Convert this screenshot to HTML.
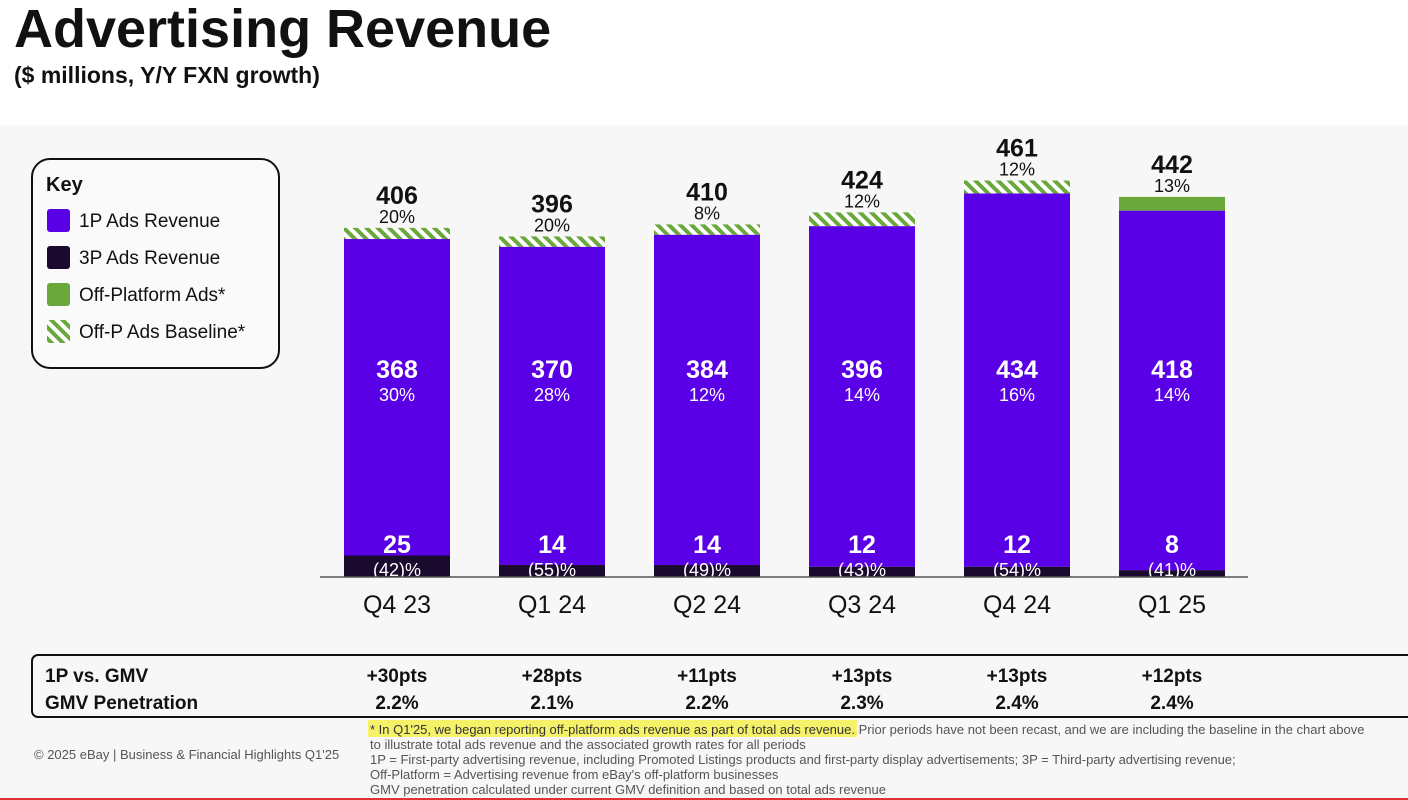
<!DOCTYPE html>
<html><head><meta charset="utf-8"><style>
html,body{margin:0;padding:0;width:1408px;height:800px;overflow:hidden;font-family:"Liberation Sans",sans-serif;background:#f7f7f7}
</style></head><body>
<svg width="1408" height="800" xmlns="http://www.w3.org/2000/svg" font-family="Liberation Sans, sans-serif">
<defs>
<pattern id="hatch" patternUnits="userSpaceOnUse" width="8" height="8" patternTransform="rotate(-45)">
<rect width="8" height="8" fill="#ffffff"/><rect width="4" height="8" fill="#6aa83c"/></pattern>
</defs>
<rect x="0" y="0" width="1408" height="125" fill="#ffffff"/>
<text x="14" y="47" font-size="54" font-weight="bold" fill="#111">Advertising Revenue</text>
<text x="14" y="83" font-size="23" font-weight="bold" fill="#111">($ millions, Y/Y FXN growth)</text>

<g>
<rect x="32" y="159" width="247" height="209" rx="18" fill="#fafafa" stroke="#111" stroke-width="2"/>
<text x="46" y="191" font-size="20" font-weight="bold" fill="#111">Key</text>
<rect x="47" y="209" width="23" height="23" rx="3" fill="#5a00e6"/>
<text x="79" y="227" font-size="19" fill="#111">1P Ads Revenue</text>
<rect x="47" y="246" width="23" height="23" rx="3" fill="#1a0a2e"/>
<text x="79" y="264" font-size="19" fill="#111">3P Ads Revenue</text>
<rect x="47" y="283" width="23" height="23" rx="3" fill="#6aa83c"/>
<text x="79" y="301" font-size="19" fill="#111">Off-Platform Ads*</text>
<rect x="47" y="320" width="23" height="23" fill="url(#hatch)"/>
<text x="79" y="338" font-size="19" fill="#111">Off-P Ads Baseline*</text>
</g>

<g id="chart"></g>
<line x1="320" y1="577" x2="1248" y2="577" stroke="#555" stroke-width="1.5"/>

<g>
<rect x="32" y="655" width="1390" height="62" rx="6" fill="#f7f7f7" stroke="#111" stroke-width="2"/>
<text x="45" y="682" font-size="19" font-weight="bold" fill="#111">1P vs. GMV</text>
<text x="45" y="709" font-size="19" font-weight="bold" fill="#111">GMV Penetration</text>
<g id="table"></g>
</g>

<text x="34" y="759" font-size="13" fill="#555">© 2025 eBay | Business &amp; Financial Highlights Q1'25</text>
<g font-size="13" fill="#555">
<rect id="hl" x="368" y="720" width="500" height="17" fill="#f5f26a"/>
<text x="370" y="734"><tspan id="hlt" fill="#333">* In Q1'25, we began reporting off-platform ads revenue as part of total ads revenue.</tspan> Prior periods have not been recast, and we are including the baseline in the chart above</text>
<text x="370" y="749">to illustrate total ads revenue and the associated growth rates for all periods</text>
<text x="370" y="764">1P = First-party advertising revenue, including Promoted Listings products and first-party display advertisements; 3P = Third-party advertising revenue;</text>
<text x="370" y="779">Off-Platform = Advertising revenue from eBay's off-platform businesses</text>
<text x="370" y="794">GMV penetration calculated under current GMV definition and based on total ads revenue</text>
</g>
<rect x="0" y="798" width="1408" height="2" fill="#d33"/>
</svg>
<script>
const categories = ["Q4 23","Q1 24","Q2 24","Q3 24","Q4 24","Q1 25"];
const totals = [406,396,410,424,461,442];
const totalGrowth = ["20%","20%","8%","12%","12%","13%"];
const p1 = [368,370,384,396,434,418];
const p1Growth = ["30%","28%","12%","14%","16%","14%"];
const p3 = [25,14,14,12,12,8];
const p3Growth = ["(42)%","(55)%","(49)%","(43)%","(54)%","(41)%"];
const offIsBaseline = [true,true,true,true,true,false];
const vsGmv = ["+30pts","+28pts","+11pts","+13pts","+13pts","+12pts"];
const gmvPen = ["2.2%","2.1%","2.2%","2.3%","2.4%","2.4%"];

try{const w=document.getElementById('hlt').getComputedTextLength();document.getElementById('hl').setAttribute('width',w+4);}catch(e){}

const NS="http://www.w3.org/2000/svg";
const baseY=577, k=0.86, barW=106;
const xc = i => 397 + i*155;
const y = v => baseY - v*k;
function mk(tag, attrs, parent, txt){const e=document.createElementNS(NS,tag);for(const a in attrs)e.setAttribute(a,attrs[a]);if(txt!==undefined)e.textContent=txt;parent.appendChild(e);return e;}
const g=document.getElementById('chart');
const tg=document.getElementById('table');
categories.forEach((c,i)=>{
  const x=xc(i)-barW/2;
  const off=totals[i]-p1[i]-p3[i];
  let r=mk('rect',{x:x,y:y(p3[i]),width:barW,height:p3[i]*k,fill:'#1a0a2e'},g);
  
  
  r=mk('rect',{x:x,y:y(p3[i]+p1[i]),width:barW,height:p1[i]*k,fill:'#5a00e6'},g);
  
  
  r=mk('rect',{x:x,y:y(totals[i]),width:barW,height:off*k,fill:offIsBaseline[i]?'url(#hatch)':'#6aa83c'},g);
  
  
  const ty=y(totals[i]);
  let t=mk('text',{x:xc(i),y:ty-24,'text-anchor':'middle','font-size':25,'font-weight':'bold',fill:'#111'},g,totals[i]);
  
  
  t=mk('text',{x:xc(i),y:ty-5,'text-anchor':'middle','font-size':18,fill:'#111'},g,totalGrowth[i]);
  
  
  t=mk('text',{x:xc(i),y:378,'text-anchor':'middle','font-size':25,'font-weight':'bold',fill:'#fff'},g,p1[i]);
  
  
  t=mk('text',{x:xc(i),y:401,'text-anchor':'middle','font-size':18,fill:'#fff'},g,p1Growth[i]);
  
  
  t=mk('text',{x:xc(i),y:553,'text-anchor':'middle','font-size':25,'font-weight':'bold',fill:'#fff'},g,p3[i]);
  
  
  t=mk('text',{x:xc(i),y:576,'text-anchor':'middle','font-size':18,fill:'#fff'},g,p3Growth[i]);
  
  
  t=mk('text',{x:xc(i),y:613,'text-anchor':'middle','font-size':25,fill:'#111'},g,c);
  
  
  t=mk('text',{x:xc(i),y:682,'text-anchor':'middle','font-size':19,'font-weight':'bold',fill:'#111'},tg,vsGmv[i]);
  
  
  t=mk('text',{x:xc(i),y:709,'text-anchor':'middle','font-size':19,'font-weight':'bold',fill:'#111'},tg,gmvPen[i]);
  
  
});
</script>
</body></html>
